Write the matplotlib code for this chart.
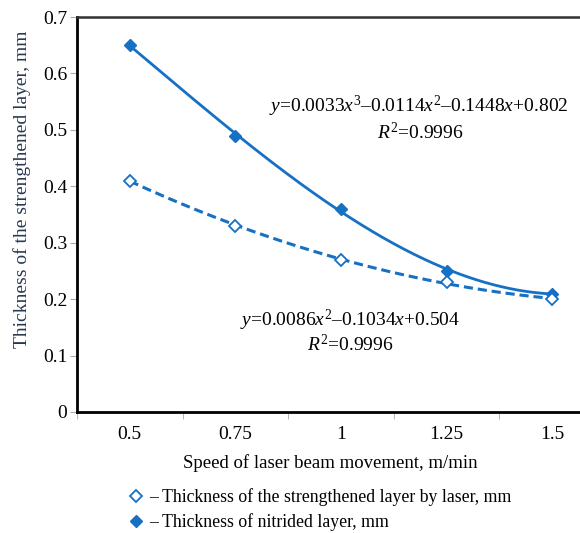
import matplotlib.pyplot as plt
import numpy as np
from matplotlib.lines import Line2D

speeds = ['0.5', '0.75', '1', '1.25', '1.5']
laser_layer = [0.41, 0.33, 0.27, 0.23, 0.20]
nitrided_layer = [0.65, 0.49, 0.36, 0.25, 0.21]
y_ticks = [0, 0.1, 0.2, 0.3, 0.4, 0.5, 0.6, 0.7]

eq_nitrided = r'$y$=0.0033$x^3$–0.0114$x^2$–0.1448$x$+0.802'
eq_laser = r'$y$=0.0086$x^2$–0.1034$x$+0.504'
r2_text = r'$R^2$=0.9996'

plt.rcParams['font.family'] = ['Liberation Serif', 'DejaVu Serif']
plt.rcParams['mathtext.fontset'] = 'custom'
plt.rcParams['mathtext.rm'] = 'Liberation Serif'
plt.rcParams['mathtext.it'] = 'Liberation Serif:italic'

blue = '#1670c4'

fig = plt.figure(figsize=(5.8, 5.33), dpi=100)
ax = fig.add_axes([77 / 580, 1 - 412 / 533, 528 / 580, 395 / 533])

x = np.arange(len(speeds))
xs = np.linspace(0, len(speeds) - 1, 200)

# trendlines (Excel-style polynomial fits on point index 1..n)
fit3 = np.polyfit(x + 1, nitrided_layer, 3)
fit2 = np.polyfit(x + 1, laser_layer, 2)
ax.plot(xs, np.polyval(fit3, xs + 1), color=blue, lw=2)
ax.plot(xs, np.polyval(fit2, xs + 1), color=blue, lw=2.2, ls=(0, (3, 1.6)))

ax.plot(x, nitrided_layer, ls='none', marker='D', ms=6.5, color=blue)
ax.plot(x, laser_layer, ls='none', marker='D', ms=6.5, mfc='white',
        mec=blue, mew=1.3)

ax.set_xlim(-0.5, len(speeds) - 0.5)
ax.set_ylim(0, 0.7)
ax.set_xticks(x)
ax.set_xticklabels(speeds, fontsize=14)
ax.set_xticks(np.arange(len(speeds) + 1) - 0.5, minor=True)
ax.tick_params(axis='x', which='major', length=0, pad=10)
ax.tick_params(axis='x', which='minor', length=5, color='#aaaaaa')
ax.set_yticks(y_ticks)
ax.set_yticklabels([f'{v:g}' for v in y_ticks], fontsize=14)
ax.tick_params(axis='y', length=5, color='#aaaaaa', pad=2)

ax.spines['left'].set_linewidth(2)
ax.spines['bottom'].set_linewidth(2)
ax.spines['top'].set_linewidth(1.8)
ax.spines['top'].set_color('#333333')
ax.spines['right'].set_visible(False)

fig.text(330 / 580, 1 - 463 / 533, 'Speed of laser beam movement, m/min',
         ha='center', va='center', fontsize=13.5)
fig.text(22 / 580, 1 - 189 / 533, 'Thickness of the strengthened layer, mm',
         rotation=90, ha='center', va='center', fontsize=14, color='#283850')

fig.text(419 / 580, 1 - 106 / 533, eq_nitrided, ha='center', va='center', fontsize=14)
fig.text(420 / 580, 1 - 133 / 533, r2_text, ha='center', va='center', fontsize=14)
fig.text(350 / 580, 1 - 320 / 533, eq_laser, ha='center', va='center', fontsize=14)
fig.text(350 / 580, 1 - 345 / 533, r2_text, ha='center', va='center', fontsize=14)

handles = [
    Line2D([], [], ls='none', marker='D', ms=6.5, mfc='white', mec=blue, mew=1.3),
    Line2D([], [], ls='none', marker='D', ms=6.5, color=blue),
]
labels = ['– Thickness of the strengthened layer by laser, mm',
          '– Thickness of nitrided layer, mm']
fig.legend(handles, labels, loc='upper left', bbox_to_anchor=(128 / 580, 1 - 488 / 533),
           frameon=False, fontsize=12.8, handlelength=0.9, handletextpad=0.3,
           labelspacing=0.4, borderpad=0, borderaxespad=0)

fig.savefig('out.png', dpi=100)
